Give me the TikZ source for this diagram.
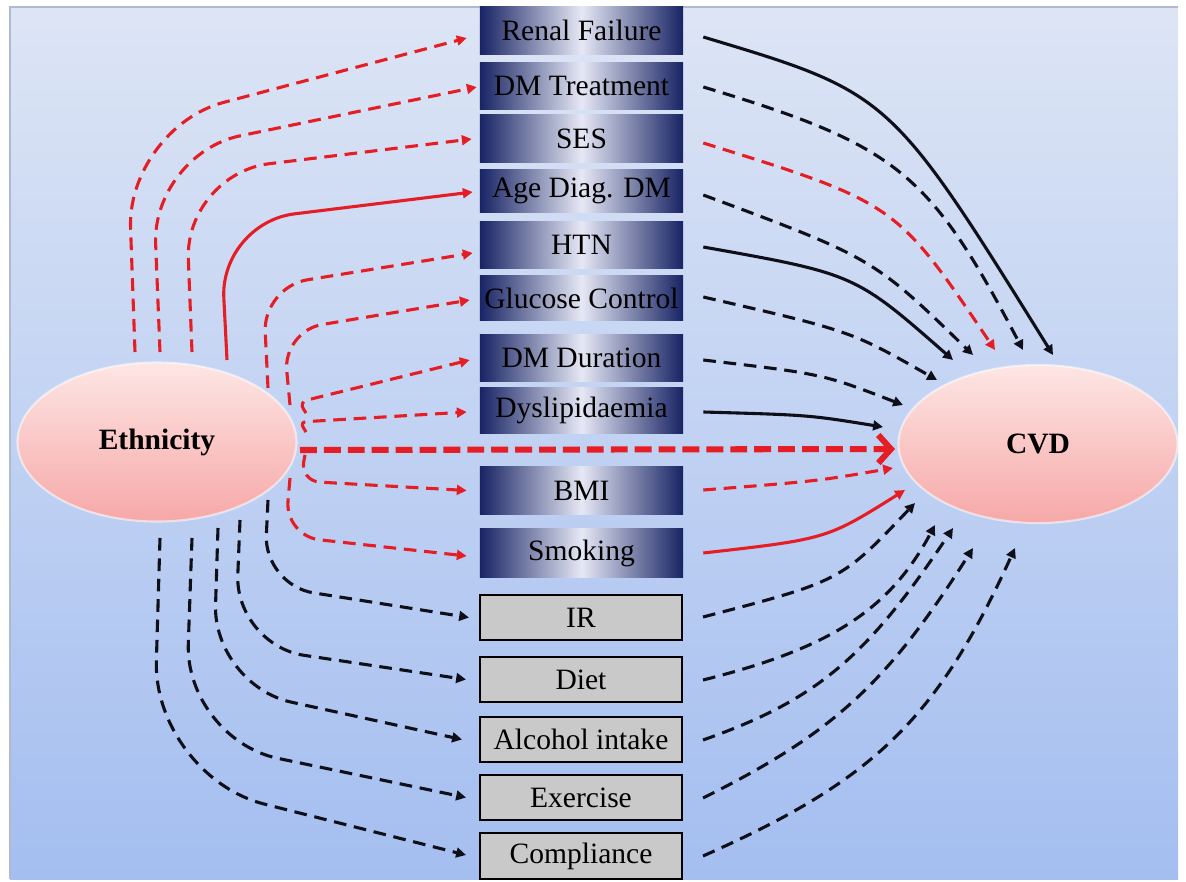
\documentclass[tikz,border=0pt]{standalone}
\usepackage{fontspec}
\setmainfont{Liberation Serif}
\usetikzlibrary{arrows.meta,shapes.geometric,calc}
\definecolor{bgtop}{RGB}{221,229,245}
\definecolor{bgbot}{RGB}{164,190,240}
\definecolor{navy}{RGB}{24,36,100}
\definecolor{navylight}{RGB}{230,232,245}
\definecolor{greyfill}{RGB}{201,201,201}
\definecolor{pinktop}{RGB}{253,230,228}
\definecolor{pinkbot}{RGB}{246,168,168}
\definecolor{linkred}{RGB}{228,30,36}
\definecolor{linkblack}{RGB}{15,15,25}

\begin{document}
\begin{tikzpicture}[x=0.025cm, y=-0.025cm,
  label font/.style={font=\fontsize{21}{25}\selectfont},
  factor/.style={rectangle, minimum width=5.075cm, minimum height=1.15cm,
    inner sep=0pt, text=black, label font},
  bluebox/.style={factor, left color=navy, right color=navy, middle color=navylight},
  greybox/.style={factor, fill=greyfill, draw=black, line width=1.4pt,
    minimum width=5.05cm, minimum height=1.13cm},
  oval/.style={ellipse, minimum width=6.975cm, minimum height=3.975cm,
    top color=pinktop, bottom color=pinkbot, draw=white, draw opacity=0.55,
    line width=1.5pt, font=\fontsize{21}{25}\selectfont\bfseries},
  link/.style={line width=2.2pt, -{Triangle[length=7pt,width=7pt]}},
  rdash/.style={link, linkred, dash pattern=on 9pt off 5.5pt},
  rline/.style={link, linkred},
  kdash/.style={link, linkblack, dash pattern=on 9pt off 5.5pt},
  kline/.style={link, linkblack},
  mainlink/.style={linkred, line width=4.3pt, dash pattern=on 12pt off 5pt,
    -{Straight Barb[length=9pt,width=20pt]}}
]
\useasboundingbox (0,0) rectangle (1186,882);

% backdrop
\fill[top color=bgtop, bottom color=bgbot] (10,7) rectangle (1178,879);
\draw[line width=0.8pt, color={rgb,255:red,175;green,186;blue,208}] (10,879) -- (10,7) -- (1178,7);

% end points
\node[oval] (eth) at (157,442) {Ethnicity};
\node[oval, minimum height=3.95cm] (cvd) at (1038,444) {CVD};

% intermediate factors
\node[bluebox, minimum height=1.175cm] (renal) at (581.5,30.5) {Renal Failure};
\node[bluebox] (dmt)   at (581.5,86)    {DM Treatment};
\node[bluebox, minimum height=1.175cm] (ses) at (581.5,138.5) {SES};
\node[bluebox, minimum height=1.05cm] (age) at (581.5,191) {Age Diag. DM};
\node[bluebox] (htn)   at (581.5,245)   {HTN};
\node[bluebox, minimum height=1.1cm] (gluc) at (581.5,298) {Glucose Control};
\node[bluebox] (dur)   at (581.5,358)   {DM Duration};
\node[bluebox, minimum height=1.125cm] (dys) at (581.5,410.5) {Dyslipidaemia};
\node[bluebox, minimum height=1.175cm] (bmi) at (581.5,490.5) {BMI};
\node[bluebox, minimum height=1.2cm] (smk) at (581.5,553) {Smoking};
\node[greybox] (ir)    at (581,617.5)   {IR};
\node[greybox] (diet)  at (581,679.5)   {Diet};
\node[greybox] (alc)   at (581,739.5)   {Alcohol intake};
\node[greybox] (exe)   at (581,797.5)   {Exercise};
\node[greybox] (comp)  at (581,856)     {Compliance};

% Ethnicity -> factors
\draw[rdash, rounded corners=2.5cm]   ($(eth)+(-22,-90)$) -- (127,128) -- ($(renal.west)+(-13,7.5)$);
\draw[rdash, rounded corners=2.25cm]  ($(eth)+(3,-90)$)   -- (152,154) -- ($(dmt.west)+(-3,1)$);
\draw[rdash, rounded corners=2.125cm] ($(eth)+(35,-90)$)  -- (185,174) -- ($(ses.west)+(-8,0.5)$);
\draw[rline, rounded corners=1.875cm] ($(eth)+(70,-82)$)  -- (220,223) -- ($(age.west)+(-7,1)$);
\draw[rdash, rounded corners=1.125cm] ($(eth)+(111,-54)$) -- (263,287) -- ($(htn.west)+(-7,8)$);
\draw[rdash, rounded corners=1cm]     ($(eth)+(133,-37)$) -- (283,331) -- ($(gluc.west)+(-10,2)$);
\draw[rdash, rounded corners=0.2cm]   ($(eth)+(149,-29)$) -- (299,402) -- ($(dur.west)+(-10,2)$);
\draw[rdash, rounded corners=0.15cm]  ($(eth)+(149,-10)$) -- (300,422) -- ($(dys.west)+(-13,1.5)$);
\draw[rdash, rounded corners=0.5cm]   ($(eth)+(148,13)$)  -- (300,481) -- ($(bmi.west)+(-13,0)$);
\draw[rdash, rounded corners=0.875cm] ($(eth)+(133,36)$)  -- (285,536) -- ($(smk.west)+(-13,3)$);
\draw[kdash, rounded corners=1.25cm]  ($(eth)+(111,58)$)  -- (264,585) -- ($(ir.west)+(-10,0)$);
\draw[kdash, rounded corners=1.75cm]  ($(eth)+(83,78)$)   -- (235,645) -- ($(diet.west)+(-13,0)$);
\draw[kdash, rounded corners=2cm]     ($(eth)+(61,86)$)   -- (213,685) -- ($(alc.west)+(-17,0)$);
\draw[kdash, rounded corners=2.375cm] ($(eth)+(35,96)$)   -- (185,739) -- ($(exe.west)+(-13,0)$);
\draw[kdash, rounded corners=2.875cm] ($(eth)+(3,96)$)    -- (153,776) -- ($(comp.west)+(-13,-1)$);

% direct path
\draw[mainlink] ($(eth)+(143,8)$) -- ($(cvd)+(-143,5)$);

% factors -> CVD
\draw[kline] ($(renal.east)+(20,6.5)$) .. controls (890,93) and (890,93) .. ($(cvd)+(15,-89)$);
\draw[kdash] ($(dmt.east)+(20,1)$) .. controls (897.4,145.5) and (929.4,171.8) .. ($(cvd)+(-15,-94)$);
\draw[rdash] ($(ses.east)+(20,4.5)$) .. controls (896,203) and (896,203) .. ($(cvd)+(-43,-94)$);
\draw[kdash] ($(age.east)+(20,4)$) .. controls (873,258) and (873,258) .. ($(cvd)+(-65,-89)$);
\draw[kline] ($(htn.east)+(20,2)$) .. controls (855,274) and (855,274) .. ($(cvd)+(-85,-84)$);
\draw[kdash] ($(gluc.east)+(20,-1)$) .. controls (851,331) and (851,331) .. ($(cvd)+(-101,-64)$);
\draw[kdash] ($(dur.east)+(20,2)$) .. controls (823,374) and (823,374) .. ($(cvd)+(-135,-39)$);
\draw[kline] ($(dys.east)+(20,1.5)$) .. controls (809,415) and (809,415) .. ($(cvd)+(-155,-17)$);
\draw[rdash] ($(bmi.east)+(20,-0.5)$) .. controls (818,481) and (818,481) .. ($(cvd)+(-145,24)$);
\draw[rline] ($(smk.east)+(20,0)$) .. controls (827,539) and (827,539) .. ($(cvd)+(-133,46)$);
\draw[kdash] ($(ir.east)+(20,-0.5)$) .. controls (841,581) and (841,581) .. ($(cvd)+(-123,59)$);
\draw[kdash] ($(diet.east)+(20,0.5)$) .. controls (832,647.75) and (890,609) .. ($(cvd)+(-103,81)$);
\draw[kdash] ($(alc.east)+(20,0.5)$) .. controls (816.6,700) and (866.6,657.6) .. ($(cvd)+(-85,84)$);
\draw[kdash] ($(exe.east)+(20,0.5)$) .. controls (833.4,733.2) and (887.4,683.2) .. ($(cvd)+(-65,104)$);
\draw[kdash] ($(comp.east)+(20,0)$) .. controls (875,780) and (937.4,718.4) .. ($(cvd)+(-23,104)$);
\end{tikzpicture}
\end{document}
